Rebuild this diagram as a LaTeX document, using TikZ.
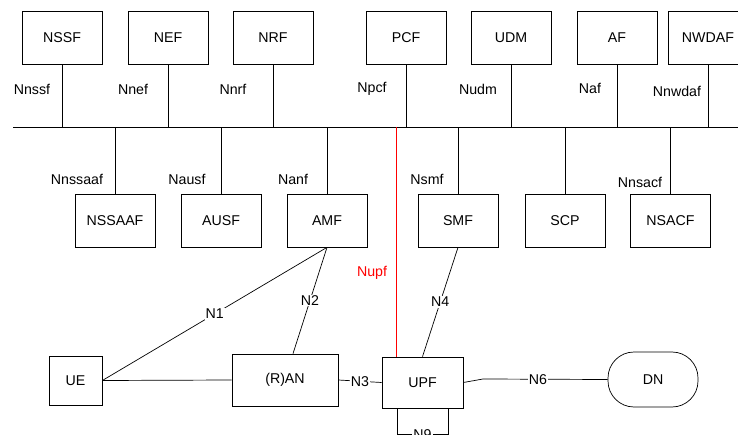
\documentclass[tikz,border=0pt]{standalone}
\usepackage{fontspec}
\setmainfont{Liberation Sans}
\newcommand{\nffont}{\fontsize{14.2}{16}\selectfont}

\begin{document}
\begin{tikzpicture}[x=1pt,y=-1pt,line width=0.7pt,
  nf/.style={draw,minimum width=80,minimum height=53,font=\nffont},
  itf/.style={font=\nffont,inner sep=1pt},
  lbl/.style={font=\nffont,fill=white,inner sep=1pt}]
\useasboundingbox (0,0) rectangle (738,435);
\coordinate (busl) at (13,127);
\coordinate (busr) at (738,127);
\draw (busl)--(busr);
% functions above the bus
\foreach \n/\t/\x/\l/\lx/\ly in {nssf/NSSF/62/Nnssf/32/89,nef/NEF/168/Nnef/133/89,
  nrf/NRF/273/Nnrf/233/89,pcf/PCF/406/Npcf/372/89,udm/UDM/511/Nudm/478/89,
  af/AF/617/Naf/590/88,nwdaf/NWDAF/708/Nnwdaf/677/91}{
  \node[nf] (\n) at (\x,38) {\t};
  \node[itf] (l\n) at (\lx,\ly) {\l};
  \draw (\n.south)--(\n.south |- busl);}
% functions below the bus
\foreach \n/\t/\x/\l/\lx/\ly in {nssaaf/NSSAAF/115/Nnssaaf/77/179,ausf/AUSF/221/Nausf/187/179,
  amf/AMF/327/Nanf/293/179,smf/SMF/458/Nsmf/427/179,nsacf/NSACF/670.5/Nnsacf/640/182}{
  \node[nf] (\n) at (\x,220.5) {\t};
  \node[itf] (l\n) at (\lx,\ly) {\l};
  \draw (\n.north)--(\n.north |- busl);}
\node[nf] (scp) at (565,220.5) {SCP};
\draw (scp.north)--(scp.north |- busl);
% user plane
\node[nf,minimum width=53,minimum height=49] (ue) at (75.5,380.5) {UE};
\node[nf,minimum width=106,minimum height=52] (ran) at (285,380) {(R)AN};
\node[nf,minimum width=81,minimum height=51] (upf) at (422.5,382.5) {UPF};
\node[nf,minimum width=90,minimum height=55,rounded corners=26] (dn) at (653,379.5) {DN};
\draw (ue.east)--(ran.west);
\draw (ue.east)--node[lbl] (n1) {N1} (amf.south);
\draw (amf.south)--node[lbl] (n2) {N2} ([xshift=8]ran.north);
\draw (ran.east)--node[lbl] (n3) {N3} (upf.west);
\draw (smf.south)--node[lbl] (n4) {N4} (upf.north);
\coordinate (n6k) at (483,379);
\draw (upf.east)--(n6k)--node[lbl,pos=0.44] (n6) {N6} (dn.west);
\draw ([xshift=-25.5]upf.south) coordinate (n9a)--++(0,26)--node[lbl] (n9) {N9} ++(51,0)--++(0,-26);
\draw[red] ([xshift=-26.5]upf.north)--([xshift=-26.5]upf.north |- busl);
\node[itf,text=red] (lnupf) at (372,273) {Nupf};
\end{tikzpicture}
\end{document}
